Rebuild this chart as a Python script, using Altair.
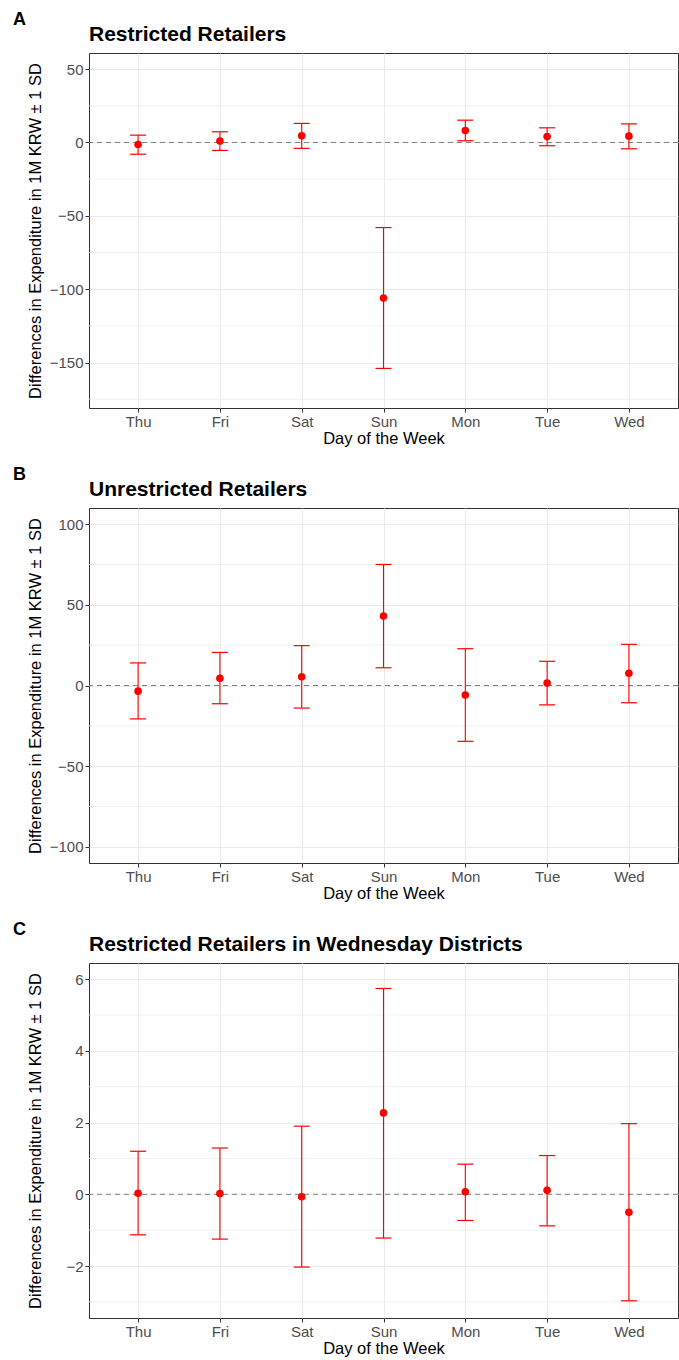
import altair as alt
import pandas as pd

days = ["Thu", "Fri", "Sat", "Sun", "Mon", "Tue", "Wed"]

a_est = [-1.4, 1.0, 4.6, -106.0, 8.2, 4.0, 4.3]
a_lo = [-8.0, -5.4, -4.0, -154.0, 1.2, -2.2, -4.3]
a_hi = [5.0, 7.3, 13.0, -58.0, 15.2, 10.0, 12.7]

b_est = [-3.5, 4.5, 5.4, 43.0, -5.9, 1.5, 7.6]
b_lo = [-20.7, -11.3, -14.0, 11.0, -34.6, -12.0, -10.7]
b_hi = [14.0, 20.5, 24.7, 75.0, 22.8, 15.0, 25.5]

c_est = [0.03, 0.02, -0.07, 2.27, 0.07, 0.11, -0.50]
c_lo = [-1.13, -1.25, -2.03, -1.22, -0.73, -0.88, -2.97]
c_hi = [1.20, 1.29, 1.90, 5.74, 0.84, 1.08, 1.97]

a_major = [-150, -100, -50, 0, 50]
a_minor = [-175, -125, -75, -25, 25]
b_major = [-100, -50, 0, 50, 100]
b_minor = [-75, -25, 25, 75]
c_major = [-2, 0, 2, 4, 6]
c_minor = [-3, -1, 1, 3, 5]

W = 589
H = 355
FONT = "Liberation Sans"
Y_TITLE = "Differences in Expenditure in 1M KRW \u00b1 1 SD"


def panel(letter, title, est, lo, hi, domain, major, minor):
    df = pd.DataFrame({"day": days, "est": est, "lo": lo, "hi": hi})
    xenc = alt.X(
        "day:N",
        sort=days,
        scale=alt.Scale(type="point", padding=0.6),
        axis=alt.Axis(title="Day of the Week", titleY=22, labelAngle=0),
    )
    yscale = alt.Scale(domain=domain, nice=False, zero=False)
    yaxis = alt.Axis(values=major, title=Y_TITLE, titleX=-54, titleY=H / 2,
                     titleBaseline="middle", titleAlign="center")

    minor_layer = alt.Chart(pd.DataFrame({"v": minor})).mark_rule(
        color="#EBEBEB", strokeWidth=0.7
    ).encode(y=alt.Y("v:Q", scale=yscale, axis=yaxis))

    zero = alt.Chart(pd.DataFrame({"z": [0]})).mark_rule(
        color="#7F7F7F", strokeDash=[5, 4], strokeWidth=1
    ).encode(y=alt.Y("z:Q", scale=yscale, axis=yaxis))

    base = alt.Chart(df)
    bars = base.mark_rule(color="#FF0000", strokeWidth=1.1).encode(
        x=xenc, y=alt.Y("lo:Q", scale=yscale, axis=yaxis), y2="hi:Q"
    )
    cap_lo = base.mark_tick(orient="horizontal", size=16, thickness=1.2,
                            color="#FF0000", opacity=1).encode(
        x=xenc, y=alt.Y("lo:Q", scale=yscale, axis=yaxis))
    cap_hi = base.mark_tick(orient="horizontal", size=16, thickness=1.2,
                            color="#FF0000", opacity=1).encode(
        x=xenc, y=alt.Y("hi:Q", scale=yscale, axis=yaxis))
    pts = base.mark_circle(size=58, color="#FF0000", opacity=1).encode(
        x=xenc, y=alt.Y("est:Q", scale=yscale, axis=yaxis))

    lab = alt.Chart(pd.DataFrame({"t": [letter]})).mark_text(
        align="left", baseline="alphabetic", fontSize=18, fontWeight="bold",
        font=FONT, color="black"
    ).encode(text="t:N", x=alt.value(-76), y=alt.value(-28.5))
    ttl = alt.Chart(pd.DataFrame({"t": [title]})).mark_text(
        align="left", baseline="alphabetic", fontSize=21, fontWeight="bold",
        font=FONT, color="black"
    ).encode(text="t:N", x=alt.value(0), y=alt.value(-12.3))

    return alt.layer(minor_layer, zero, bars, cap_lo, cap_hi, pts, lab, ttl).properties(
        width=W, height=H
    )


pa = panel("A", "Restricted Retailers", a_est, a_lo, a_hi, [-181, 61], a_major, a_minor)
pb = panel("B", "Unrestricted Retailers", b_est, b_lo, b_hi, [-110, 110], b_major, b_minor)
pc = panel("C", "Restricted Retailers in Wednesday Districts", c_est, c_lo, c_hi,
           [-3.45, 6.45], c_major, c_minor)

chart = alt.vconcat(pa, pb, pc, spacing=100, bounds="flush").properties(
    padding={"left": 12, "top": 10, "right": 0, "bottom": 0},
    background="white",
).configure_view(
    stroke="#333333", strokeWidth=1
).configure_axis(
    domain=False,
    grid=True,
    gridColor="#EBEBEB",
    gridWidth=1,
    tickColor="#333333",
    tickSize=4,
    tickWidth=1,
    labelColor="#4D4D4D",
    labelFontSize=15,
    labelFont=FONT,
    labelPadding=2,
    titleFont=FONT,
    titleFontSize=16.5,
    titleFontWeight="normal",
    titleColor="black",
)

chart.save("out.html", embed_options={"renderer": "svg", "actions": False})
